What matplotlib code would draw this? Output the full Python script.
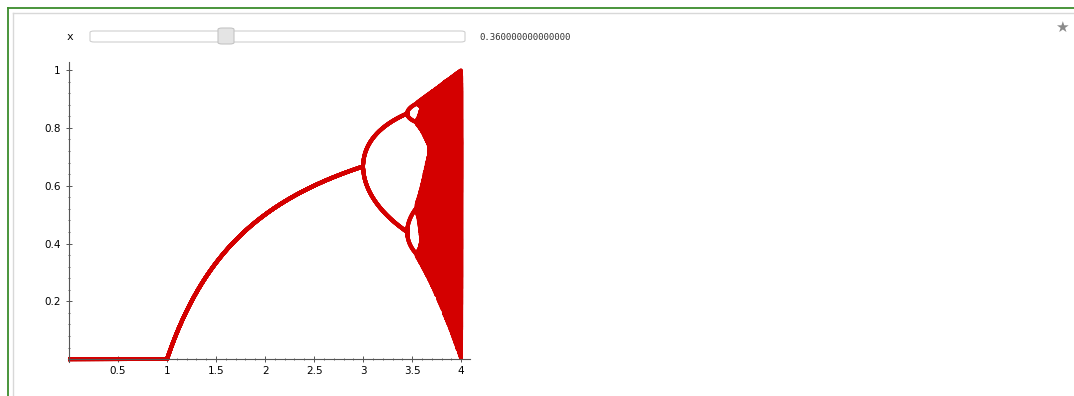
import numpy as np
import matplotlib
matplotlib.use('Agg')
import matplotlib.pyplot as plt
from matplotlib.patches import FancyBboxPatch

# logistic map parameters (slider value x0 = 0.36)
x0 = 0.36
r_start, r_stop, r_step = 0.0, 4.0, 0.001
n_transient = 1000
n_kept = 16

x_ticks = [0.5, 1, 1.5, 2, 2.5, 3, 3.5, 4]
x_labels = ['0.5', '1', '1.5', '2', '2.5', '3', '3.5', '4']
y_ticks = [0.2, 0.4, 0.6, 0.8, 1]
y_labels = ['0.2', '0.4', '0.6', '0.8', '1']

r = np.arange(r_start, r_stop + r_step / 2, r_step)
x = np.full_like(r, x0)
for i in range(n_transient):
    x = r * x * (1 - x)
orbits = []
for k in range(n_kept):
    x = r * x * (1 - x)
    orbits.append(x.copy())

W, H = 1074, 396
fig = plt.figure(figsize=(W / 100, H / 100), dpi=100)
fig.patch.set_facecolor('white')

# frame of the interact cell
fig.add_artist(plt.Line2D([8 / W, 8 / W], [0, 1 - 8 / H], color='#3c8c2c', lw=1.3))
fig.add_artist(plt.Line2D([8 / W, 1], [1 - 8 / H, 1 - 8 / H], color='#3c8c2c', lw=1.3))
fig.add_artist(plt.Line2D([13 / W, 13 / W], [0, 1 - 13 / H], color='#d8d8d8', lw=1))
fig.add_artist(plt.Line2D([13 / W, 1], [1 - 13 / H, 1 - 13 / H], color='#d8d8d8', lw=1))

# slider
fig.text(70 / W, 1 - 37 / H, 'x', fontsize=8, ha='center', va='center', family='DejaVu Sans Mono')
fig.add_artist(FancyBboxPatch((90 / W, 1 - 42 / H), 375 / W, 11 / H,
                              boxstyle='round,pad=0,rounding_size=0.004',
                              fc='white', ec='#cfcfcf', lw=0.8, transform=fig.transFigure))
fig.add_artist(FancyBboxPatch((218 / W, 1 - 44 / H), 16 / W, 16 / H,
                              boxstyle='round,pad=0,rounding_size=0.004',
                              fc='#e4e4e4', ec='#c4c4c4', lw=0.8, transform=fig.transFigure))
fig.text(479 / W, 1 - 37 / H, '%.15f' % x0, fontsize=6.5, ha='left', va='center',
         family='DejaVu Sans Mono', color='#333333')
fig.text(1062 / W, 1 - 27 / H, '\u2605', fontsize=11, ha='center', va='center', color='#8a8a8a')

ax = fig.add_axes([68 / W, 34 / H, (470 - 68) / W, (362 - 62) / H])
for orb in orbits:
    ax.plot(r, orb, color='#d40000', lw=2.8, solid_joinstyle='round')

ax.set_xlim(-0.01, 4.09)
ax.set_ylim(-0.01, 1.028)
ax.spines['left'].set_position(('data', 0))
ax.spines['bottom'].set_position(('data', 0))
ax.spines['right'].set_visible(False)
ax.spines['top'].set_visible(False)
for s in ('left', 'bottom'):
    ax.spines[s].set_color('#555555')
    ax.spines[s].set_linewidth(0.8)
ax.set_xticks(x_ticks)
ax.set_xticklabels(x_labels)
ax.set_yticks(y_ticks)
ax.set_yticklabels(y_labels)
ax.set_xticks(np.arange(0.1, 4.05, 0.1), minor=True)
ax.set_yticks(np.arange(0.04, 1.02, 0.04), minor=True)
ax.tick_params(which='major', length=4, width=0.7, color='#555555', labelsize=7.5, direction='inout')
ax.tick_params(which='minor', length=2, width=0.6, color='#555555', direction='inout')
ax.tick_params(axis='x', pad=3)
ax.tick_params(axis='y', pad=4)

fig.savefig('out.png', dpi=100, facecolor='white')
